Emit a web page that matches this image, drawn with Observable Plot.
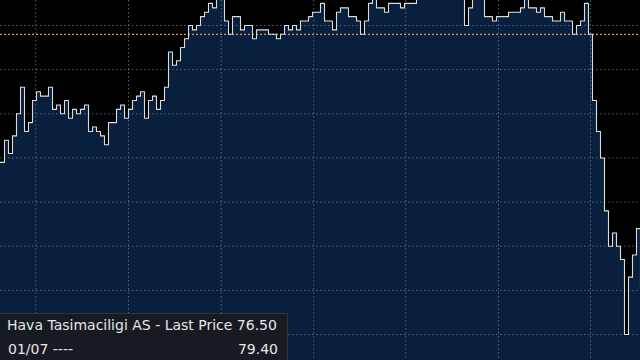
<!DOCTYPE html>
<html><head><meta charset="utf-8">
<script src="https://cdn.jsdelivr.net/npm/d3@7"></script>
<script src="https://cdn.jsdelivr.net/npm/@observablehq/plot@0.6"></script>
<style>
html,body{margin:0;padding:0;background:#000;}
#wrap{position:relative;width:640px;height:360px;overflow:hidden;background:#000;}
#legend{position:absolute;left:0;top:313px;width:288px;height:47px;background:#171b21;border-top:1px solid #30353c;border-right:1px solid #30353c;box-sizing:border-box;font-family:"DejaVu Sans",Verdana,sans-serif;font-size:14px;color:#e6e6e6;}
#legend span{position:absolute;white-space:nowrap;line-height:17px;}
</style></head>
<body>
<div id="wrap"><div id="chart"></div>
<div id="legend">
<span style="left:7px;top:3px" id="line1"></span>
<span style="left:8px;top:27px">01/07 ----</span>
<span style="right:9px;top:27px" id="refv"></span>
</div></div>
<script>
const prices = [
77.95,78.2,78.05,78.25,78.5,78.8,78.3,78.4,78.65,78.75,
78.7,78.7,78.8,78.55,78.6,78.5,78.65,78.45,78.55,78.5,
78.55,78.6,78.3,78.35,78.3,78.25,78.15,78.4,78.4,78.55,
78.6,78.45,78.55,78.65,78.7,78.75,78.45,78.65,78.7,78.55,
78.65,78.8,79.2,79.05,79.1,79.25,79.35,79.5,79.45,79.5,
79.6,79.65,79.75,79.7,79.85,79.85,79.55,79.4,79.6,79.6,
79.45,79.5,79.5,79.35,79.45,79.45,79.45,79.4,79.4,79.35,
79.4,79.5,79.45,79.5,79.45,79.55,79.55,79.6,79.65,79.65,
79.75,79.55,79.55,79.45,79.65,79.7,79.7,79.6,79.6,79.55,
79.4,79.55,79.75,79.85,79.7,79.7,79.65,79.75,79.75,79.75,
79.7,79.75,79.75,79.75,79.8,79.85,79.9,79.9,79.95,79.9,
79.9,79.95,79.9,79.85,79.9,79.85,79.5,79.7,79.8,79.8,
79.8,79.6,79.6,79.55,79.6,79.6,79.6,79.65,79.65,79.65,
79.7,79.8,79.7,79.7,79.65,79.7,79.6,79.6,79.55,79.55,
79.65,79.55,79.55,79.4,79.5,79.55,79.75,79.4,78.65,78.3,
78.0,77.4,77.0,77.15,77.0,76.85,76.0,76.65,76.9,77.2,
76.5
];
const yGridTicks = [76, 76.5, 77, 77.5, 78, 78.5, 79, 79.5];
const xGridTicks = [8.8, 32, 55.2, 78.3, 101.3, 124.5, 147.5];
const refPrice = 79.40;
const lastPrice = 76.50;
const yDomain = [75.706, 79.783];

document.getElementById("line1").textContent = "Hava Tasimaciligi AS - Last Price " + lastPrice.toFixed(2);
document.getElementById("refv").textContent = refPrice.toFixed(2);

const data = prices.map((p, i) => ({i, p}));
const gridStyle = {stroke: "#8898ae", strokeOpacity: 0.6, strokeDasharray: "1.5,2.5"};
const chart = Plot.plot({
  width: 640, height: 360, margin: 0,
  x: {domain: [0, prices.length - 1], axis: null},
  y: {domain: yDomain, axis: null},
  style: {background: "#000"},
  marks: [
    Plot.areaY(data, {x: "i", y1: yDomain[0], y2: "p", curve: "step-after", fill: "#08203d", clip: true}),
    Plot.ruleY(yGridTicks, gridStyle),
    Plot.ruleX(xGridTicks, gridStyle),
    Plot.ruleY([refPrice], {stroke: "#d9925a", strokeDasharray: "2,2", strokeWidth: 1.3}),
    Plot.line(data, {x: "i", y: "p", curve: "step-after", stroke: "#dcdcdc", strokeWidth: 1.1, clip: true})
  ]
});
document.getElementById("chart").appendChild(chart);
</script>
</body></html>
